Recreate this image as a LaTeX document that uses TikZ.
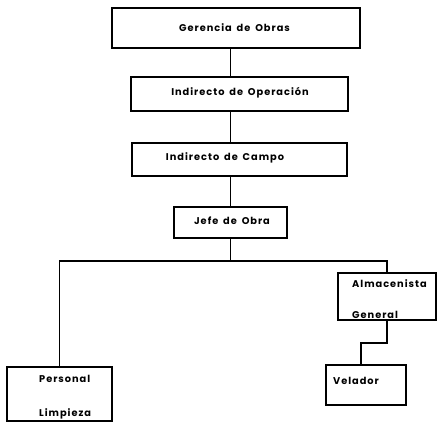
\documentclass[tikz,border=0pt]{standalone}
\usepackage{fontspec}
\newfontfamily\labfont{Poppins}[LetterSpace=10, WordSpace=1.6]
\usetikzlibrary{positioning}
\tikzset{
  unitbox/.style={draw=black, line width=1.5pt, rectangle, inner sep=0pt},
  lab/.style={font=\labfont\bfseries\fontsize{9.8}{11}\selectfont, inner sep=0pt, text=black},
  link/.style={draw=black, line width=1.5pt}
}
\begin{document}
\begin{tikzpicture}[x=1pt,y=-1pt]
  \useasboundingbox (0,0) rectangle (437,423);
  % organisation boxes
  \node[unitbox, minimum width=248pt, minimum height=40pt] (g) at (236,28) {};
  \node[unitbox, minimum width=217pt, minimum height=34pt] (o) at (239.5,94) {};
  \node[unitbox, minimum width=215pt, minimum height=33pt] (c) at (239.5,159.5) {};
  \node[unitbox, minimum width=113pt, minimum height=31pt] (j) at (230.5,222.5) {};
  \node[unitbox, minimum width=98pt, minimum height=47pt] (a) at (387,296.5) {};
  \node[unitbox, minimum width=105pt, minimum height=54pt] (p) at (59.5,394) {};
  \node[unitbox, minimum width=80pt, minimum height=40pt] (v) at (366,385) {};
  % labels
  \node[lab, anchor=mid] (tg) at (234.5,29) {Gerencia de Obras};
  \node[lab, anchor=mid] (to) at (240,93) {Indirecto de Operación};
  \node[lab, anchor=mid] (tc) at (225,158) {Indirecto de Campo};
  \node[lab, anchor=mid] (tj) at (232,222) {Jefe de Obra};
  \node[lab, anchor=mid west] (ta1) at (352,285) {Almacenista};
  \node[lab, anchor=mid west] (ta2) at (352,316) {General};
  \node[lab, anchor=mid west] (tp1) at (39,380) {Personal};
  \node[lab, anchor=mid west] (tp2) at (39,414) {Limpieza};
  \node[lab, anchor=mid west] (tv) at (333,382) {Velador};
  % connectors
  \coordinate (bus) at (230.5,261);
  \coordinate (av) at (361,343);
  \draw[link] (g.south -| j) -- (o.north -| j);
  \draw[link] (o.south -| j) -- (c.north -| j);
  \draw[link] (c.south -| j) -- (j.north);
  \draw[link] (j.south) -- (bus);
  \draw[link] (p.north) |- (bus) -| (a.north);
  \draw[link] (a.south) |- (av) -- (av |- v.north);
\end{tikzpicture}
\end{document}
